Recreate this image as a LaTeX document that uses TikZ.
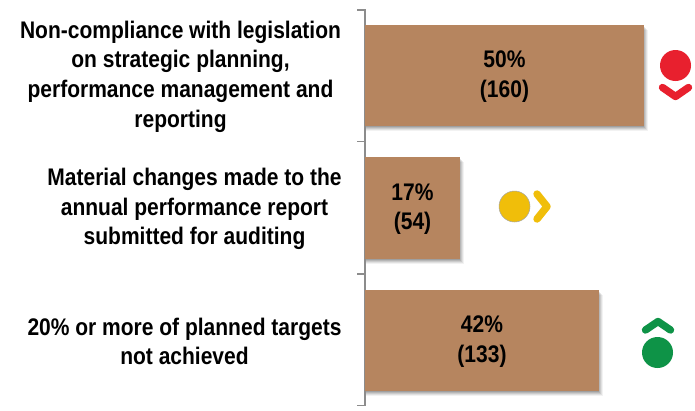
\documentclass[tikz,border=0pt]{standalone}
\usepackage{fontspec}
\setmainfont{Liberation Sans}[FakeStretch=0.875]
\definecolor{barc}{HTML}{B6855F}
\definecolor{axisc}{HTML}{8C8C8C}
\definecolor{redc}{HTML}{E8202E}
\definecolor{yelc}{HTML}{F0BE0A}
\definecolor{grnc}{HTML}{0E9347}
\tikzset{
  x=1pt,y=-1pt,
  lbl/.style={inner sep=0pt,font=\fontsize{24}{29.7}\selectfont\bfseries,align=center,text=black},
  axisline/.style={draw=axisc,line width=1.4pt},
  chev/.style={line width=7.4pt,line cap=round,line join=round},
}
\newcommand{\barshadow}[4]{%
  \foreach \d/\o in {5/0.05,4/0.07,3/0.09,2/0.10,1/0.12}{%
    \fill[black,opacity=\o] (#1,#3) ++(1,\d) rectangle (#2+\d-1,#4+\d);}}
\begin{document}
\begin{tikzpicture}
\useasboundingbox (0,0) rectangle (695,410);
\fill[white] (0,0) rectangle (695,410);
% axis
\coordinate (axt) at (365,10);
\coordinate (axb) at (365,405.5);
\draw[axisline] (357,10) -- (axt) -- (axb) -- (357,405.5);
\draw[axisline] (357,141.5) -- (365,141.5);
\draw[axisline] (357,274) -- (365,274);
% bars
\barshadow{365}{644}{25}{126}
\barshadow{365}{459.5}{157}{259}
\barshadow{365}{599}{290}{391}
\path[fill=barc] (365,25) rectangle (644,126);
\path[fill=barc] (365,157) rectangle (459.5,259);
\path[fill=barc] (365,290) rectangle (599,391);
\node[lbl] (v1) at (504.5,76.5) {50\%\\(160)};
\node[lbl] (v2) at (412.5,209) {17\%\\(54)};
\node[lbl] (v3) at (482,341.5) {42\%\\(133)};
% labels
\node[lbl,anchor=center] (l1a) at (180.5,76.5) {Non-compliance with legislation\\on strategic planning,\\performance management and\\reporting};
\node[lbl,anchor=center] (l2) at (194.5,209) {Material changes made to the\\annual performance report\\submitted for auditing};
\node[lbl,anchor=center] (l3) at (184.5,341.5) {20\% or more of planned targets\\not achieved};
% indicators
\fill[redc] (675.5,65.5) circle (15.5);
\draw[chev,draw=redc] (662.5,87.5) -- (675.5,96.5) -- (688.5,87.5);
\fill[yelc,draw=black!35,line width=0.5pt] (514.5,206.5) circle (15.5);
\draw[chev,draw=yelc] (537,194) -- (547,206.5) -- (537,219);
\fill[grnc] (657.5,352.5) circle (15.5);
\draw[chev,draw=grnc] (645.5,330) -- (658,321.5) -- (670.5,330);
\end{tikzpicture}
\end{document}
